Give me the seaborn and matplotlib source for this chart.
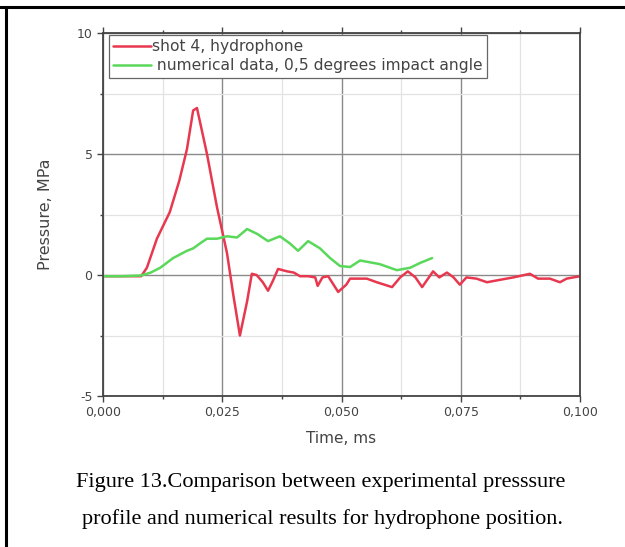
import matplotlib
matplotlib.use("Agg")
import matplotlib.pyplot as plt
from matplotlib.lines import Line2D
from matplotlib.ticker import MultipleLocator, FuncFormatter
import seaborn as sns
import pandas as pd

# ---- data ----
red_label = "shot 4, hydrophone"
green_label = " numerical data, 0,5 degrees impact angle"

red_t = [0.000, 0.004, 0.008, 0.0092, 0.0113, 0.014, 0.016, 0.0176, 0.0189, 0.0197,
         0.0218, 0.0239, 0.026, 0.0273, 0.0287, 0.0302, 0.0312, 0.0322, 0.0335, 0.0346,
         0.0356, 0.0367, 0.0386, 0.040, 0.0413, 0.043, 0.0445, 0.045, 0.046, 0.0472,
         0.0493, 0.051, 0.0518, 0.0553, 0.0574, 0.0606, 0.0623, 0.0639, 0.0655, 0.0669,
         0.0692, 0.0705, 0.0721, 0.0735, 0.0748, 0.0762, 0.0783, 0.0805, 0.0832, 0.086,
         0.0895, 0.0912, 0.0937, 0.0958, 0.0972, 0.100]
red_p = [-0.05, -0.05, -0.05, 0.3, 1.5, 2.6, 3.9, 5.2, 6.8, 6.9,
         5.0, 2.8, 0.9, -0.8, -2.5, -1.1, 0.05, 0.0, -0.3, -0.65,
         -0.25, 0.25, 0.15, 0.1, -0.05, -0.05, -0.1, -0.45, -0.1, -0.05,
         -0.7, -0.4, -0.15, -0.15, -0.3, -0.5, -0.1, 0.15, -0.1, -0.5,
         0.15, -0.1, 0.1, -0.1, -0.4, -0.1, -0.15, -0.3, -0.2, -0.1,
         0.05, -0.15, -0.15, -0.3, -0.15, -0.05]

green_t = [0.0, 0.004, 0.008, 0.010, 0.012, 0.0147, 0.0176, 0.0189, 0.0203, 0.0218,
           0.0239, 0.026, 0.0281, 0.0302, 0.0323, 0.0346, 0.0371, 0.0392, 0.0409, 0.043,
           0.0455, 0.0476, 0.0497, 0.0518, 0.0539, 0.058, 0.0616, 0.0644, 0.0665, 0.069]
green_p = [-0.05, -0.05, -0.02, 0.1, 0.3, 0.7, 1.0, 1.1, 1.3, 1.5,
           1.5, 1.6, 1.55, 1.9, 1.7, 1.4, 1.6, 1.3, 1.0, 1.4,
           1.1, 0.7, 0.37, 0.33, 0.6, 0.45, 0.2, 0.3, 0.5, 0.7]

x_ticks = [0.000, 0.025, 0.050, 0.075, 0.100]
y_ticks = [-5, 0, 5, 10]

caption_lines = ["Figure 13.Comparison between experimental presssure",
                 "profile and numerical results for hydrophone position."]

df = pd.concat([
    pd.DataFrame({"t": red_t, "p": red_p, "series": red_label}),
    pd.DataFrame({"t": green_t, "p": green_p, "series": green_label}),
])

sns.set_style("white")
plt.rcParams["font.family"] = ["DejaVu Sans"]

fig = plt.figure(figsize=(6.25, 5.47), dpi=100)
ax = fig.add_axes([103/625, 1-396/547, 477/625, 363/547])

RED = "#e8384f"
GREEN = "#5ad85a"
sns.lineplot(data=df, x="t", y="p", hue="series", sort=False,
             palette={red_label: RED, green_label: GREEN},
             linewidth=1.8, ax=ax, legend=False, estimator=None)

ax.set_xlim(0, 0.1)
ax.set_ylim(-5, 10)
ax.xaxis.set_minor_locator(MultipleLocator(0.0125))
ax.yaxis.set_minor_locator(MultipleLocator(2.5))
ax.set_xticks(x_ticks)
ax.set_yticks(y_ticks)
ax.xaxis.set_major_formatter(FuncFormatter(lambda v, p: f"{v:.3f}".replace(".", ",")))
ax.yaxis.set_major_formatter(FuncFormatter(lambda v, p: f"{v:g}"))

ax.grid(True, which="major", color="#8a8a8a", linewidth=1.0)
ax.grid(True, which="minor", color="#e2e2e2", linewidth=0.9)
ax.set_axisbelow(True)

for s in ax.spines.values():
    s.set_color("#444444")
    s.set_linewidth(1.3)

ax.tick_params(which="both", direction="out", colors="#444444", labelcolor="#444444",
               top=True, bottom=True, left=True, right=False, labelsize=9, width=1)
ax.tick_params(which="major", length=4)
ax.tick_params(which="minor", length=2.5)

ax.set_xlabel("Time, ms", fontsize=11, color="#444444", labelpad=8)
ax.set_ylabel("Pressure, MPa", fontsize=11.5, color="#444444", labelpad=17)

handles = [Line2D([], [], color=RED, linewidth=1.8),
           Line2D([], [], color=GREEN, linewidth=1.8)]
leg = ax.legend(handles, [red_label, green_label], loc="upper left",
                bbox_to_anchor=(0.012, 0.995), fontsize=11.2, handlelength=2.4,
                handletextpad=0.05, borderpad=0.3, labelspacing=0.25,
                frameon=True, fancybox=False, framealpha=1, borderaxespad=0)
leg.get_frame().set_edgecolor("#666666")
leg.get_frame().set_linewidth(0.9)
for t in leg.get_texts():
    t.set_color("#444444")

fig.text(321/625, 1-482/547, caption_lines[0], ha="center", va="center",
         fontsize=16, family="Liberation Serif", color="black")
fig.text(323/625, 1-519/547, caption_lines[1], ha="center", va="center",
         fontsize=16, family="Liberation Serif", color="black")

fig.add_artist(Line2D([0, 1], [1-7/547, 1-7/547], color="black", linewidth=2.2,
                      transform=fig.transFigure))
fig.add_artist(Line2D([6/625, 6/625], [0, 1-7/547], color="black", linewidth=2.2,
                      transform=fig.transFigure))

fig.savefig("out.png", dpi=100)
